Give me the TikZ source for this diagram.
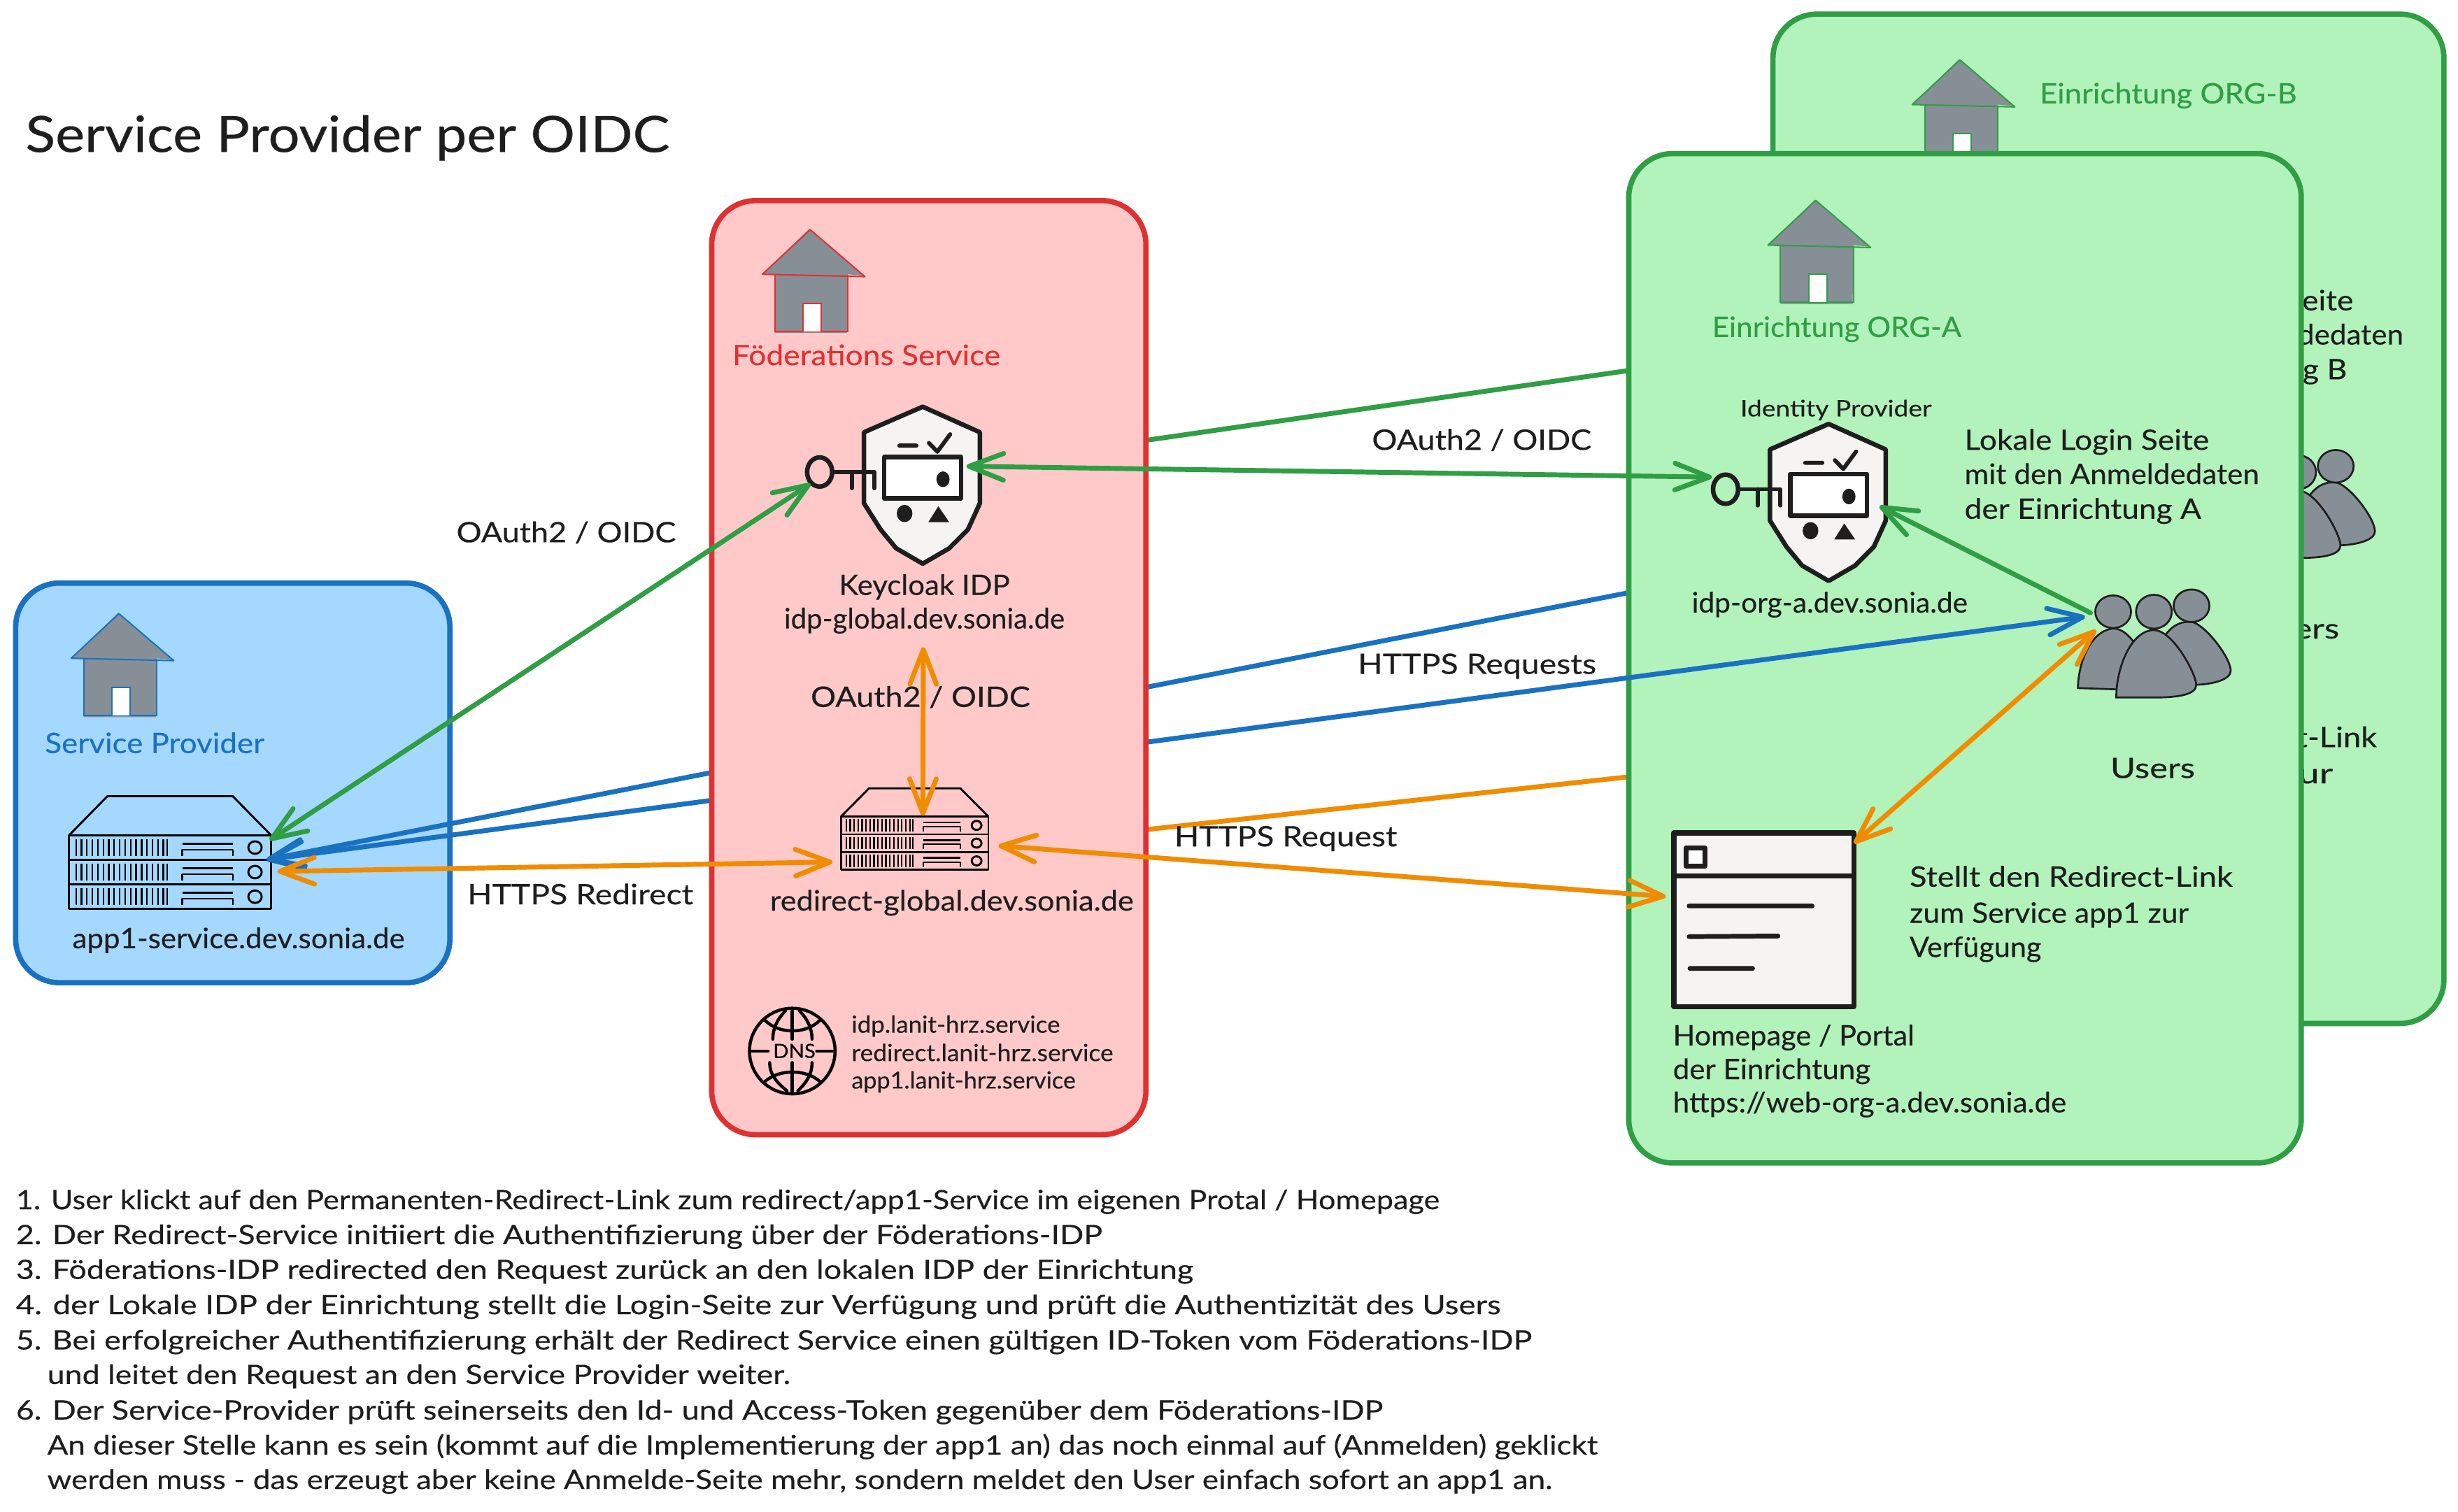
\documentclass[tikz,border=0pt]{standalone}
\usepackage{fontspec}
\usepackage{graphicx}
\setmainfont{Lato}[FakeBold=0.25]
\usetikzlibrary{arrows.meta}
\definecolor{ink}{HTML}{1E1E1E}
\definecolor{spfill}{HTML}{A5D8FF}\definecolor{spline}{HTML}{1971C2}
\definecolor{fedfill}{HTML}{FFC9C9}\definecolor{fedline}{HTML}{E03131}
\definecolor{orgfill}{HTML}{B2F2BB}\definecolor{orgline}{HTML}{2F9E44}
\definecolor{arrorange}{HTML}{F08C00}
\definecolor{iconfill}{HTML}{868E96}
\definecolor{paper}{HTML}{F5F4F2}
\newsavebox\lbbox
% \lab[colour]{name}{x}{y}{width}{size}{text}
\newcommand\lab[6][ink]{%
  \node[anchor=base west,inner sep=0pt,text=#1,yshift=-1pt] (#2) at (#3) {%
    \sbox\lbbox{\fontsize{#5}{#5}\selectfont #6}%
    \pgfmathsetmacro\lbratio{#4/\the\wd\lbbox}%
    \scalebox{\lbratio}[1]{\usebox\lbbox}};}
\tikzset{
  panel/.style={draw=#1,line width=3.4pt,rounded corners=28pt,inner sep=0pt},
  conn/.style={draw=#1,line width=3.1pt,line cap=round},
  barb/.tip={Straight Barb[length=22pt,width=17pt,round]},
  both/.style={barb-barb},
  head/.style={-barb},
}
% house: apex at (#1,#2), outline #3
\newcommand\housei[3]{%
  \begin{scope}[shift={(#1,#2)}]
    \fill[iconfill] (0,0) -- (-30,29) -- (-22,29) -- (-22,66.5) -- (24,66.5) -- (24.6,29) -- (35,30) -- cycle;
    \draw[#3,line width=.9pt,line join=round] (.5,.5) -- (-30,29) -- (35.5,30.5) -- cycle;
    \draw[#3,line width=.9pt] (-22,29) -- (-22,65.5) -- (24.6,65.5) -- (24.6,29.5);
    \fill[white,draw=#3,line width=.8pt] (-4,47.5) rectangle (7.6,65.7);
  \end{scope}}
% server: rack at x #1, y #2, width #3, height #4, trapezoid height #5
\newcommand\serveri[5]{%
  \begin{scope}[shift={(#1,#2)},x=#3pt,y=-#4pt,line width=1.3pt,draw=black,line join=round]
    \draw (0,0) -- (.19,-#5/#4) -- (.81,-#5/#4) -- (1,0);
    \draw (0,0) rectangle (1,1);
    \draw (0,.333) -- (1,.333) (0,.667) -- (1,.667);
    \foreach \ry in {0,.333,.667}{
      \foreach \vx in {.035,.062,.089,.116,.143,.170,.197,.224,.251,.278,.305,.332,.359,.386,.413,.440,.467,.486}{
        \draw[line width=1pt] (\vx,\ry+.05) -- (\vx,\ry+.28);}
      \draw (.56,\ry+.11) -- (.81,\ry+.11);
      \draw[line width=.9pt] (.56,\ry+.28) -- (.56,\ry+.19) -- (.81,\ry+.19) -- (.81,\ry+.28);
      \draw (.92,\ry+.165) ellipse [x radius=.033,y radius=.085];
    }
  \end{scope}}
% shield + key: apex at (#1,#2)
\newcommand\shieldi[2]{%
  \begin{scope}[shift={(#1,#2)},x=.1992pt,y=-.1851pt,line join=round,line cap=round,draw=ink]
    \draw[line width=2.9pt,fill=paper] (0,0) -- (183,88) -- (183,333) -- (145,423) -- (85,488) -- (0,541) -- (-85,488) -- (-135,423) -- (-188,333) -- (-188,88) -- cycle;
    \draw[line width=2.9pt] (-330,225) ellipse [x radius=8pt,y radius=9.3pt];
    \draw[line width=2.6pt] (-285,225) -- (-155,225) -- (-155,281) (-227,225) -- (-227,281);
    \draw[line width=2.9pt,fill=white] (-123,173) rectangle (123,316);
    \fill[ink] (65,250) ellipse [x radius=4.2pt,y radius=5pt];
    \draw[line width=2.6pt] (-75,134) -- (-20,134) (20,125) -- (47,155) -- (88,95);
    \fill[ink] (-58,368) ellipse [x radius=5pt,y radius=5.5pt];
    \fill[ink] (50,343) -- (85,398) -- (18,398) -- cycle;
  \end{scope}}
% users, drawn in org-A frame, shifted by (#1,#2)
\newcommand\usersi[2]{%
  \begin{scope}[shift={(#1,#2)},draw=ink,line width=1.2pt,fill=iconfill]
    \filldraw (1378,410) .. controls (1385,398) and (1392,396) .. (1399,397) .. controls (1408,400) and (1423,420) .. (1423,428) .. controls (1423,434) and (1410,437) .. (1398,437) -- cycle;
    \filldraw (1325.5,439) .. controls (1326,420) and (1335,402) .. (1348,401) .. controls (1356,401) and (1362,410) .. (1368,420) -- (1355,440) -- cycle;
    \filldraw (1350,445) .. controls (1350,425) and (1360,402) .. (1374,402) .. controls (1386,402) and (1401,430) .. (1401,437) .. controls (1401,443) and (1390,445) .. (1375,445) -- cycle;
    \filldraw (1348,390.3) ellipse [x radius=11.4pt,y radius=10.4pt];
    \filldraw (1374,390.3) ellipse [x radius=11.4pt,y radius=10.8pt];
    \filldraw (1398,386.5) ellipse [x radius=11.4pt,y radius=10.4pt];
  \end{scope}}
\begin{document}
\begin{tikzpicture}[x=1pt,y=-1pt]
\useasboundingbox (0,0) rectangle (1568,964.3);
\fill[white] (0,0) rectangle (1568,964.3);
% anchor points of the connectors
\coordinate (spGreen) at (172,536);
\coordinate (spBlue) at (170,548.6);
\coordinate (spOrange) at (177,556);
\coordinate (kcKey) at (517,308.6);
\coordinate (kcCard) at (616.6,297.5);
\coordinate (kcBottom) at (589,413);
\coordinate (rdTop) at (588.7,520.5);
\coordinate (rdLeft) at (531,550);
\coordinate (rdRight) at (637,539.6);
\coordinate (aKey) at (1092,304.4);
\coordinate (aShield) at (1199,323);
\coordinate (aUsersG) at (1333.5,391);
\coordinate (aUsersB) at (1330,393.5);
\coordinate (aUsersO) at (1337,402);
\coordinate (aHomeL) at (1062.6,572);
\coordinate (aHomeT) at (1182.8,538);
\coordinate (bKey) at (1184,215.4);
\coordinate (bUsersB) at (1422,303);
\coordinate (bHomeL) at (1154.6,483);

% ---- Service Provider
\node[panel=spline,fill=spfill,minimum width=277pt,minimum height=255pt] (sp) at (148.5,499.5) {};
\housei{75.4}{391}{spline}
\lab[spline]{spTitle}{28.5,479.5}{140}{18}{Service Provider}
\serveri{44}{533}{129}{47}{25}
\lab{spHost}{46,604}{212}{18}{app1-service.dev.sonia.de}

% ---- Org B
\node[panel=orgline,fill=orgfill,minimum width=428pt,minimum height=644pt] (orgB) at (1345,331) {};
\housei{1249.8}{37.7}{orgline}
\lab[orgline]{bTitle}{1301,65}{164}{18}{Einrichtung ORG-B}
\usersi{92}{-89}
\lab{bLoc1}{1345,197}{156}{18}{Lokale Login Seite}
\lab{bLoc2}{1345,218.8}{188}{18}{mit den Anmeldedaten}
\lab{bLoc3}{1345,241}{152}{18}{der Einrichtung B}
\lab{bUsers}{1438,406.4}{54}{18}{Users}
\lab{bLink1}{1310,475.7}{206}{18}{Stellt den Redirect-Link}
\lab{bLink2}{1455,498.8}{33}{18}{zur}
\draw[conn=spline,head] (bUsersB) -- (spBlue);
\draw[conn=orgline] (kcCard) -- (bKey);
\draw[conn=arrorange] (rdRight) -- (bHomeL);

% ---- Org A
\node[panel=orgline,fill=orgfill,minimum width=429pt,minimum height=644pt] (orgA) at (1253.5,420) {};
\housei{1157.8}{127.4}{orgline}
\lab[orgline]{aTitle}{1092,214}{159}{18}{Einrichtung ORG-A}
\lab{aIdpLabel}{1110,264.7}{122}{14.5}{Identity Provider}
\shieldi{1166.5}{270.5}
\lab{aLoc1}{1253,286}{156}{18}{Lokale Login Seite}
\lab{aLoc2}{1253,307.8}{188}{18}{mit den Anmeldedaten}
\lab{aLoc3}{1253,330}{151}{18}{der Einrichtung A}
\lab{aIdpHost}{1079,389.8}{176}{18}{idp-org-a.dev.sonia.de}
\usersi{0}{0}
\lab{aUsers}{1346,495.4}{54}{18}{Users}
\lab{aLink1}{1218,564.7}{206}{18}{Stellt den Redirect-Link}
\lab{aLink2}{1218,587.8}{178}{18}{zum Service app1 zur}
\lab{aLink3}{1218,609.6}{84}{18}{Verfügung}
\begin{scope}[draw=ink,line join=round,line cap=round]
  \draw[line width=3.2pt,fill=paper] (1067.8,531.4) rectangle (1182.6,642.2);
  \draw[line width=3.2pt] (1067.8,558.9) -- (1182.6,558.9);
  \draw[line width=3pt,fill=white] (1075.5,541) rectangle (1087.5,552.6);
  \draw[line width=3pt] (1077.5,578) -- (1156,578) (1077.5,597.6) -- (1134.2,597.2) (1078,617.9) -- (1118,617.9);
\end{scope}
\lab{aHome1}{1067,666}{154}{18}{Homepage / Portal}
\lab{aHome2}{1067,687.5}{126}{18}{der Einrichtung}
\lab{aHome3}{1067,708.7}{251}{18}{https://web-org-a.dev.sonia.de}
\draw[conn=spline,both] (spBlue) -- (aUsersB);

% ---- Federation
\node[panel=fedline,fill=fedfill,minimum width=277pt,minimum height=596pt] (fed) at (592.5,426) {};
\housei{516.3}{146}{fedline}
\lab[fedline]{fedTitle}{467,232}{171}{18}{Föderations Service}
\shieldi{588.6}{259.5}
\lab{kcName}{535,378.6}{109}{18}{Keycloak IDP}
\lab{kcHost}{500,400}{179}{18}{idp-global.dev.sonia.de}
\serveri{536.5}{521}{94}{34}{18}
\lab{rdHost}{491,580}{232}{18}{redirect-global.dev.sonia.de}
\begin{scope}[draw=black,line width=2pt,line cap=round]
  \draw (505.4,670.6) circle [radius=27.3pt];
  \draw (505.4,645) -- (505.4,663) (505.4,678) -- (505.4,697);
  \draw (478.5,670.6) -- (490,670.6) (521,670.6) -- (532.5,670.6);
  \draw (488,651) .. controls (497,660) and (514,660) .. (523,651);
  \draw (488,690) .. controls (497,682) and (514,682) .. (523,690);
  \draw (501,645) .. controls (496,650) and (493,656) .. (493,663);
  \draw (510,645) .. controls (515,650) and (518,656) .. (518,663);
  \draw (491,678) .. controls (491,686) and (496,691) .. (502,696);
  \draw (518,678) .. controls (518,686) and (514,691) .. (509,696);
\end{scope}
\lab[black]{dnsText}{493,674}{27}{12.5}{DNS}
\lab{dns1}{543,657.9}{133}{15}{idp.lanit-hrz.service}
\lab{dns2}{543,676}{167}{15}{redirect.lanit-hrz.service}
\lab{dns3}{543,693.5}{143}{15}{app1.lanit-hrz.service}

% ---- connectors on top
\draw[conn=orgline,both] (spGreen) -- (kcKey);
\draw[conn=orgline,both] (kcCard) -- (aKey);
\draw[conn=orgline,head] (aUsersG) -- (aShield);
\draw[conn=arrorange,both] (spOrange) -- (rdLeft);
\draw[conn=arrorange,both] (kcBottom) -- (rdTop);
\draw[conn=arrorange,both] (rdRight) -- (aHomeL);
\draw[conn=arrorange,both] (aUsersO) -- (aHomeT);

% ---- connector labels
\lab{lblRedirect}{298,576}{144}{18}{HTTPS Redirect}
\lab{lblOauthL}{291,345}{140}{18}{OAuth2 / OIDC}
\lab{lblOauthM}{517,450}{140}{18}{OAuth2 / OIDC}
\lab{lblOauthT}{875,286}{140}{18}{OAuth2 / OIDC}
\lab{lblReqs}{866,429}{152}{18}{HTTPS Requests}
\lab{lblReq}{749,539}{142}{18}{HTTPS Request}

% ---- title and notes
\lab{title}{16,96}{411}{32}{Service Provider per OIDC}
\lab{n1}{10,770.5}{908}{17}{1. User klickt auf den Permanenten-Redirect-Link zum redirect/app1-Service im eigenen Protal / Homepage}
\lab{n2}{10,792.8}{693}{17}{2. Der Redirect-Service initiiert die Authentifizierung über der Föderations-IDP}
\lab{n3}{10,815}{751}{17}{3. Föderations-IDP redirected den Request zurück an den lokalen IDP der Einrichtung}
\lab{n4}{10,837.5}{947}{17}{4. der Lokale IDP der Einrichtung stellt die Login-Seite zur Verfügung und prüft die Authentizität des Users}
\lab{n5}{10,860}{967}{17}{5. Bei erfolgreicher Authentifizierung erhält der Redirect Service einen gültigen ID-Token vom Föderations-IDP}
\lab{n5b}{30,882}{474}{17}{und leitet den Request an den Service Provider weiter.}
\lab{n6}{10,904.7}{872}{17}{6. Der Service-Provider prüft seinerseits den Id- und Access-Token gegenüber dem Föderations-IDP}
\lab{n6b}{30,927}{989}{17}{An dieser Stelle kann es sein (kommt auf die Implementierung der app1 an) das noch einmal auf (Anmelden) geklickt}
\lab{n6c}{30,949}{960}{17}{werden muss - das erzeugt aber keine Anmelde-Seite mehr, sondern meldet den User einfach sofort an app1 an.}
\end{tikzpicture}
\end{document}
